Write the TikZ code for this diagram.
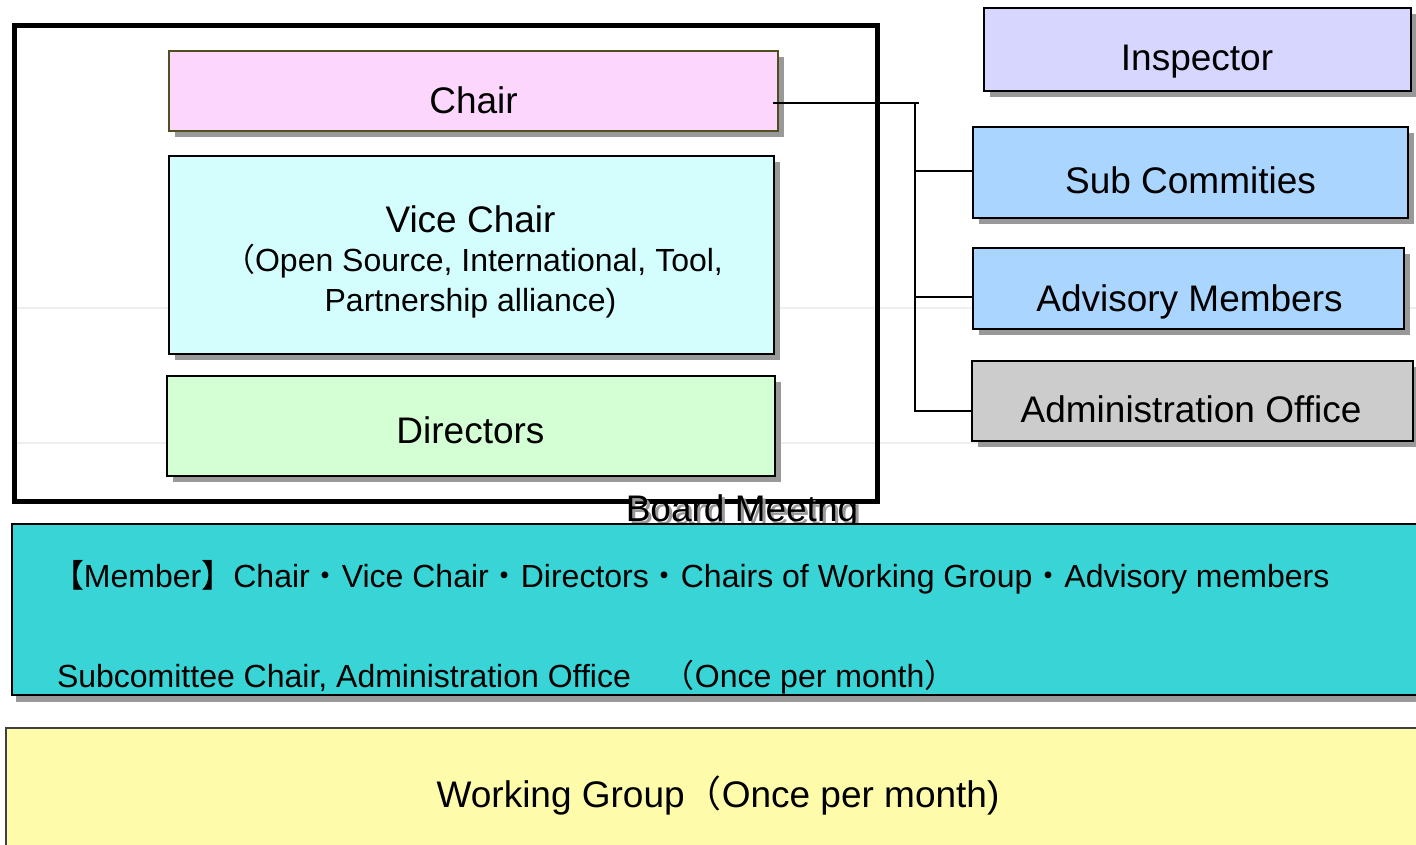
\documentclass[tikz,border=0pt]{standalone}
\usepackage{fontspec}
\setmainfont{Liberation Sans}
\newfontfamily\cjk{Noto Sans CJK JP}
\usetikzlibrary{shadows}

\definecolor{chairFill}{RGB}{253,214,254}
\definecolor{chairLine}{RGB}{80,80,30}
\definecolor{viceFill}{RGB}{212,254,254}
\definecolor{dirFill}{RGB}{212,254,212}
\definecolor{inspFill}{RGB}{214,214,254}
\definecolor{subFill}{RGB}{169,213,254}
\definecolor{officeFill}{RGB}{204,204,204}
\definecolor{memberFill}{RGB}{56,212,214}
\definecolor{groupFill}{RGB}{254,252,170}
\definecolor{shadowGray}{RGB}{153,153,153}
\definecolor{gridGray}{RGB}{238,238,238}

% text with a grey copy set slightly down and right
\newcommand{\shadedtext}[1]{\rlap{\hspace{3pt}\raisebox{-3pt}{\color{shadowGray}#1}}#1}

\begin{document}
\begin{tikzpicture}[x=1pt,y=-1pt,
  box/.style={draw=black,line width=1.8pt,inner sep=0pt,outer sep=0pt,
    drop shadow={shadow xshift=6pt,shadow yshift=-6pt,fill=shadowGray,opacity=1}},
  boxtitle/.style={anchor=base,inner sep=0pt,outer sep=0pt,font=\fontsize{37}{44}\selectfont},
  boxnote/.style={anchor=base,inner sep=0pt,outer sep=0pt,font=\fontsize{32}{38}\selectfont},
  link/.style={draw=black,line width=1.5pt},
  gridline/.style={draw=gridGray,line width=1.5pt}]
\path[use as bounding box,fill=white] (0,0) rectangle (1416,845);

% faint guide lines behind everything
\draw[gridline] (16,308) -- (1416,308);
\draw[gridline] (16,443) -- (1416,443);

% board meeting frame
\node[draw=black,line width=5pt,minimum width=862.5pt,minimum height=475.5pt] (board) at (445.75,263.75) {};

% boxes inside the board
\node[box,draw=chairLine,fill=chairFill,minimum width=609pt,minimum height=80pt] (chair) at (473.5,91) {};
\node[box,fill=viceFill,minimum width=605pt,minimum height=198pt] (vice) at (471.5,255) {};
\node[box,fill=dirFill,minimum width=608pt,minimum height=100pt] (dir) at (471,426) {};

\node[boxtitle] (chairtext) at (473.5,114) {Chair};
\node[boxtitle] (vicetext) at (470.5,233) {Vice Chair};
\node[boxnote] (vicenoteA) at (473,271) {{\cjk （}Open Source, International, Tool,};
\node[boxnote] (vicenoteB) at (470.5,311) {Partnership alliance)};
\node[boxtitle] (dirtext) at (470.5,443) {Directors};

% boxes on the right
\node[box,fill=inspFill,minimum width=427pt,minimum height=83pt] (insp) at (1197.5,49.5) {};
\node[box,fill=subFill,minimum width=435pt,minimum height=91pt] (sub) at (1190.5,172.5) {};
\node[box,fill=subFill,minimum width=431pt,minimum height=81pt] (adv) at (1188.5,288.5) {};
\node[box,fill=officeFill,minimum width=441pt,minimum height=80pt] (office) at (1192.5,401) {};

\node[boxtitle] (insptext) at (1197,71) {Inspector};
\node[boxtitle] (subtext) at (1190.5,194) {Sub Commities};
\node[boxtitle] (advtext) at (1189.5,311) {Advisory Members};
\node[boxtitle] (officetext) at (1191,422) {Administration Office};

% chair to the side bodies
\coordinate (tap) at ([xshift=-5pt,yshift=-12pt]chair.east);
\coordinate (bus) at (915,103);
\coordinate (subtap) at ([yshift=1.5pt]sub.west);
\coordinate (advtap) at ([yshift=-8.5pt]adv.west);
\coordinate (officetap) at ([yshift=-10pt]office.west);
\draw[link] (tap) -- ([xshift=4pt]bus);
\draw[link] (bus) -- (bus |- officetap) -- (officetap);
\draw[link] (bus |- subtap) -- (subtap);
\draw[link] (bus |- advtap) -- (advtap);

\node[boxtitle] (boardlabel) at (742,521) {\shadedtext{Board Meetng}};

% meeting members
\node[box,fill=memberFill,minimum width=1428pt,minimum height=171pt,
  drop shadow={shadow xshift=4pt,shadow yshift=-7pt,fill=shadowGray,opacity=1}] (member) at (726,609.5) {};
\node[boxnote,anchor=base west] (memberA) at (52,587) {{\cjk 【}Member{\cjk 】}Chair{\cjk ・}Vice Chair{\cjk ・}Directors{\cjk ・}Chairs of Working Group{\cjk ・}Advisory members};
\node[boxnote,anchor=base west] (memberB) at (57,687) {Subcomittee Chair, Administration Office{\cjk 　（}Once per month{\cjk ）}};

% working group
\node[box,draw=black!75,fill=groupFill,minimum width=1434pt,minimum height=152pt] (group) at (723,804) {};
\node[boxtitle] (grouptext) at (718,807) {Working Group{\cjk （}Once per month)};
\end{tikzpicture}
\end{document}
